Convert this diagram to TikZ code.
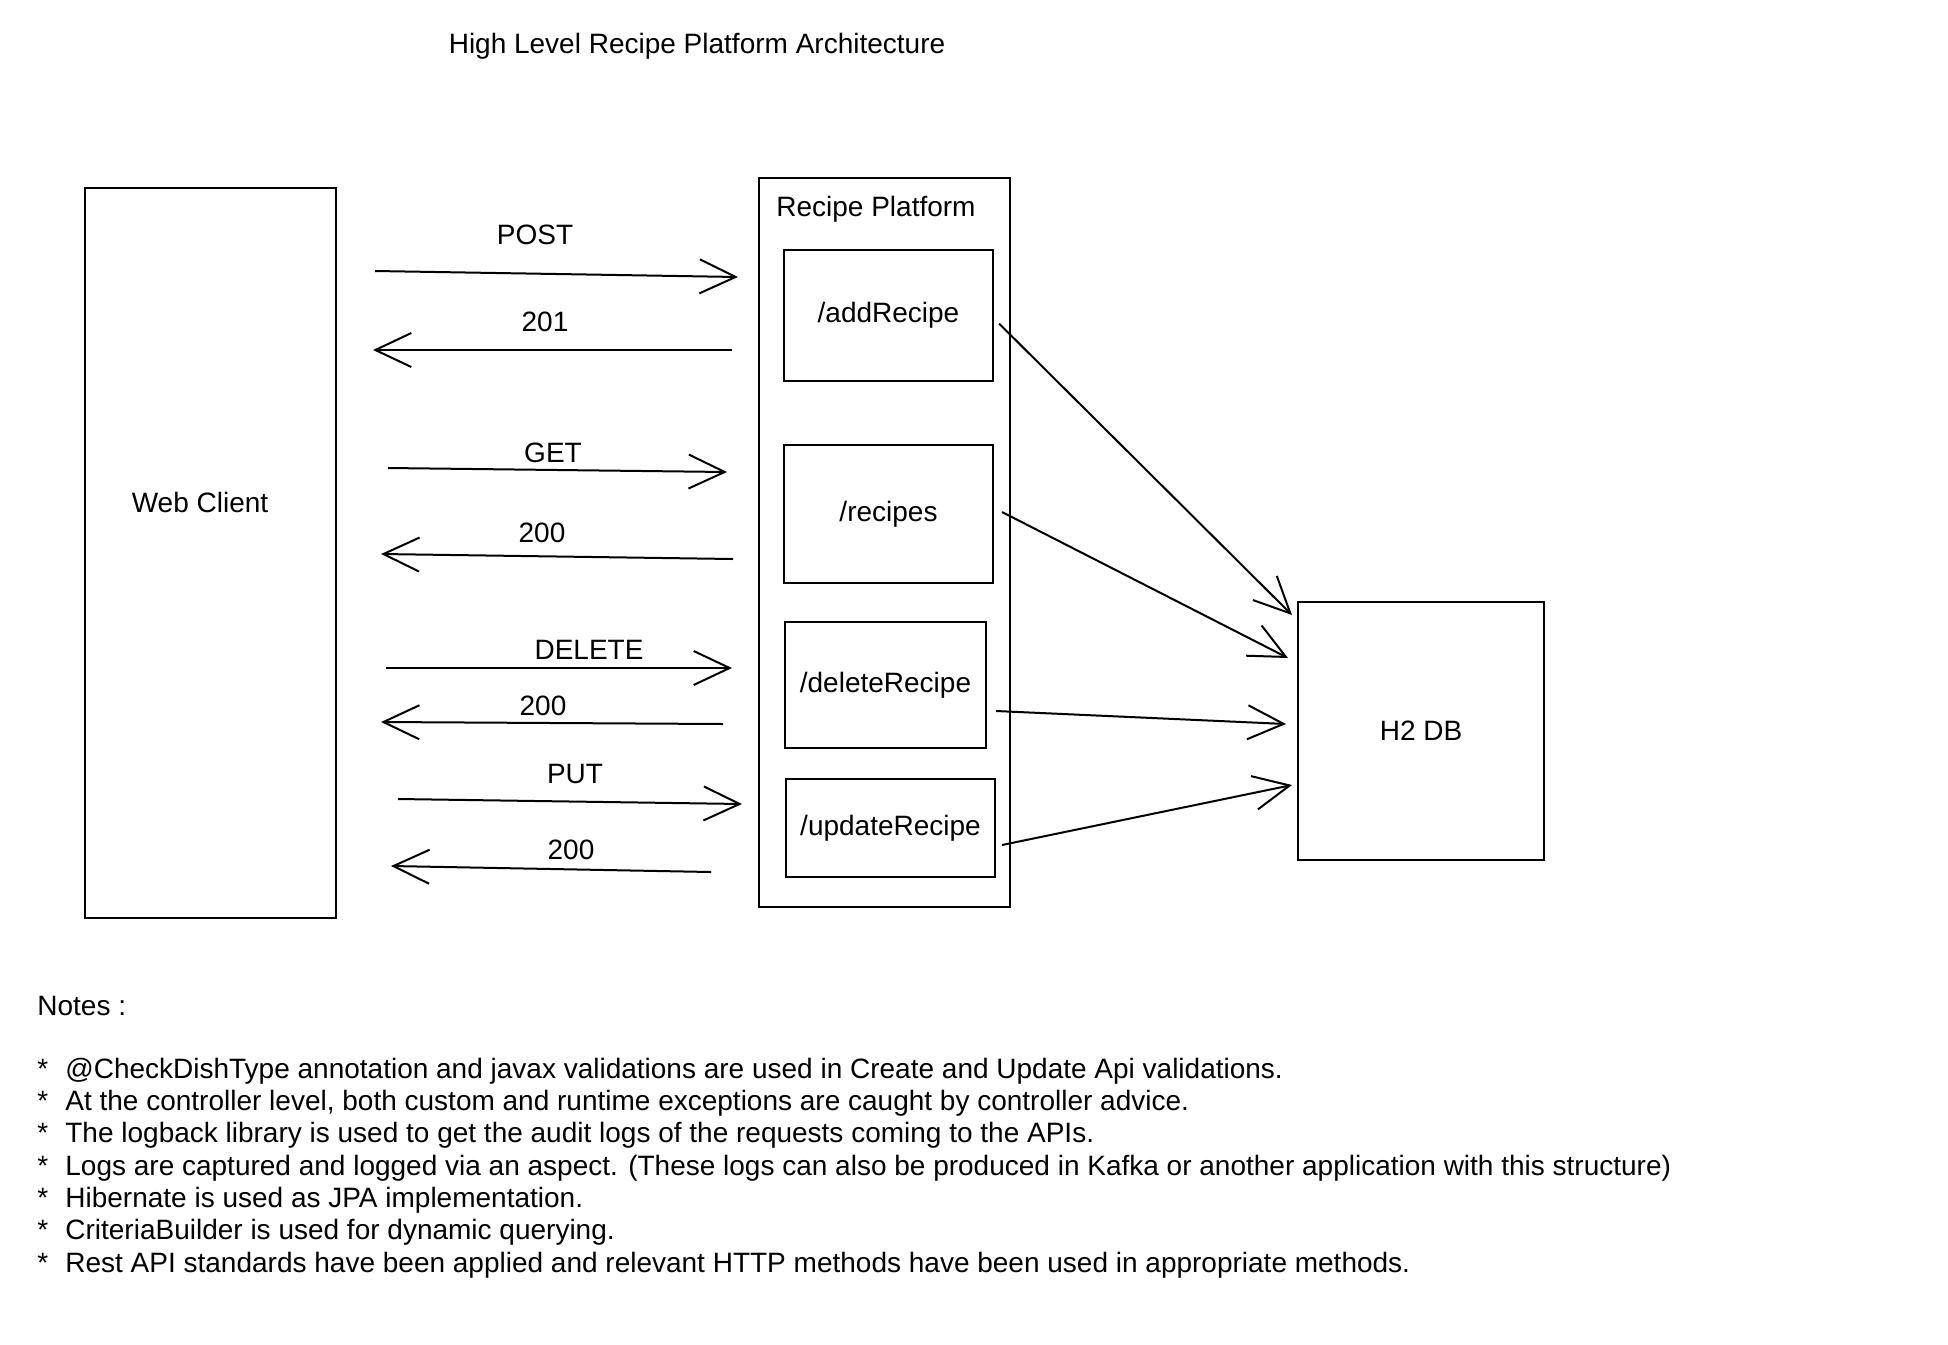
\documentclass[tikz,border=0pt]{standalone}
\usepackage{fontspec}
\setmainfont{Liberation Sans}
\usetikzlibrary{arrows.meta}
\tikzset{
  box/.style={draw, line width=1pt, inner sep=0pt},
  txt/.style={inner sep=0pt, font=\fontsize{14}{17}\selectfont},
  call/.style={line width=1pt, -{Straight Barb[length=18pt,width=17pt,line width=1pt]}},
}
\begin{document}
\begin{tikzpicture}[x=0.5pt,y=-0.5pt]
  \useasboundingbox (0,0) rectangle (1948,1344);
  \node[txt] (title) at (697,46) {High Level Recipe Platform Architecture};

  % boxes
  \node[box, minimum width=125.5pt, minimum height=365pt] (web) at (210,553) {};
  \node[txt] (weblbl) at (200,502) {Web Client};
  \node[box, minimum width=125.5pt, minimum height=364.7pt] (platform) at (884.5,542.3) {};
  \node[txt] (platlbl) at (876,209) {Recipe Platform};
  \node[box, txt, minimum width=104.5pt, minimum height=65.5pt] (add) at (888.5,315.5) {/addRecipe};
  \node[box, txt, minimum width=104.5pt, minimum height=69pt] (recipes) at (888.5,514) {/recipes};
  \node[box, txt, minimum width=100.5pt, minimum height=63pt] (delete) at (885.5,685) {/deleteRecipe};
  \node[box, txt, minimum width=104.5pt, minimum height=49pt] (update) at (890.5,828) {/updateRecipe};
  \node[box, txt, minimum width=123pt, minimum height=128.75pt] (h2) at (1421,731) {H2 DB};

  % requests and responses
  \coordinate (postA) at (375,271);  \coordinate (postB) at (738,277);
  \coordinate (r201A) at (732,350);  \coordinate (r201B) at (373,350);
  \coordinate (getA) at (388,468);   \coordinate (getB) at (727,472);
  \coordinate (r200aA) at (733,559); \coordinate (r200aB) at (381,554);
  \coordinate (delA) at (386,668);   \coordinate (delB) at (732,668);
  \coordinate (r200bA) at (723,724); \coordinate (r200bB) at (381,722);
  \coordinate (putA) at (398,799);   \coordinate (putB) at (742,804);
  \coordinate (r200cA) at (711,872); \coordinate (r200cB) at (391,866);

  \draw[call] (postA)--(postB);
  \draw[call] (r201A)--(r201B);
  \draw[call] (getA)--(getB);
  \draw[call] (r200aA)--(r200aB);
  \draw[call] (delA)--(delB);
  \draw[call] (r200bA)--(r200bB);
  \draw[call] (putA)--(putB);
  \draw[call] (r200cA)--(r200cB);

  \node[txt] (postlbl) at (535,235) {POST};
  \node[txt] (r201lbl) at (545,322) {201};
  \node[txt] (getlbl) at (553,453) {GET};
  \node[txt] (r200albl) at (542,533) {200};
  \node[txt] (dellbl) at (589,650) {DELETE};
  \node[txt] (r200blbl) at (543,706) {200};
  \node[txt] (putlbl) at (575,774) {PUT};
  \node[txt] (r200clbl) at (571,850) {200};

  % database access
  \coordinate (addDB) at (1292,615);
  \coordinate (recDB) at (1288,658);
  \coordinate (delDB) at (1286,724);
  \coordinate (updDB) at (1292,785);
  \draw[call] ([shift={(5,8)}]add.east)--(addDB);
  \draw[call] ([shift={(8,-2)}]recipes.east)--(recDB);
  \draw[call] ([shift={(9,26)}]delete.east)--(delDB);
  \draw[call] ([shift={(6,17)}]update.east)--(updDB);

  % notes
  \node[txt, anchor=west] (notes) at (37,1006) {Notes :};
  \node[txt, anchor=west] (n1) at (37,1071) {\makebox[14pt][l]{*}@CheckDishType annotation and javax validations are used in Create and Update Api validations.};
  \node[txt, anchor=west] (n2) at (37,1103) {\makebox[14pt][l]{*}At the controller level, both custom and runtime exceptions are caught by controller advice.};
  \node[txt, anchor=west] (n3) at (37,1135) {\makebox[14pt][l]{*}The logback library is used to get the audit logs of the requests coming to the APIs.};
  \node[txt, anchor=west] (n4) at (37,1168) {\makebox[14pt][l]{*}Logs are captured and logged via an aspect. (These logs can also be produced in Kafka or another application with this structure)};
  \node[txt, anchor=west] (n5) at (37,1200) {\makebox[14pt][l]{*}Hibernate is used as JPA implementation.};
  \node[txt, anchor=west] (n6) at (37,1232) {\makebox[14pt][l]{*}CriteriaBuilder is used for dynamic querying.};
  \node[txt, anchor=west] (n7) at (37,1265) {\makebox[14pt][l]{*}Rest API standards have been applied and relevant HTTP methods have been used in appropriate methods.};
\end{tikzpicture}
\end{document}
